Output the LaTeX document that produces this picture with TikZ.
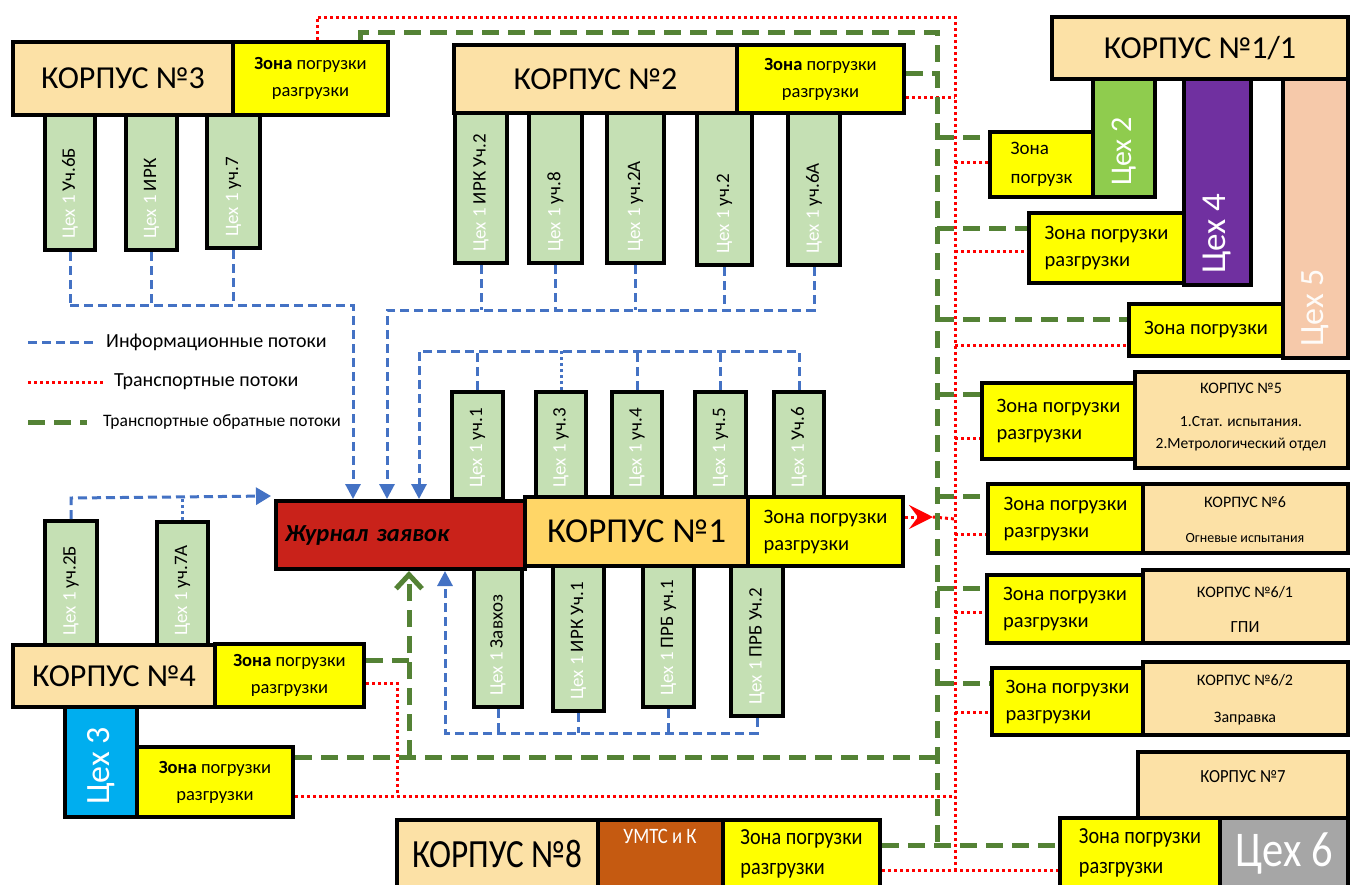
\documentclass[tikz,border=0pt]{standalone}
\usepackage{fontspec}
\setmainfont{Carlito}
\usepackage{graphicx}
\usetikzlibrary{arrows.meta,calc}

\definecolor{korp}{HTML}{FCE1A6}
\definecolor{korpone}{HTML}{FFD667}
\definecolor{zonec}{HTML}{FFFF00}
\definecolor{tabg}{HTML}{C5E0B4}
\definecolor{cehtwo}{HTML}{8FCC4E}
\definecolor{cehfour}{HTML}{7030A0}
\definecolor{cehfive}{HTML}{F6C9AA}
\definecolor{cehthree}{HTML}{00AEEF}
\definecolor{cehsix}{HTML}{A6A6A6}
\definecolor{umts}{HTML}{C55A11}
\definecolor{jrn}{HTML}{C9221A}
\definecolor{infoc}{HTML}{4472C4}
\definecolor{transc}{HTML}{FF0000}
\definecolor{retc}{HTML}{548235}

\tikzset{
  box/.style={draw=black,line width=4pt,inner sep=0pt},
  korpus/.style={box,fill=korp,font=\fontsize{32}{36}\selectfont},
  korpsmall/.style={box,fill=korp},
  zonebox/.style={box,fill=zonec,font=\fontsize{18.5}{27}\selectfont,align=center},
  zoneleft/.style={box,fill=zonec,font=\fontsize{20.5}{27}\selectfont,align=left},
  tabbox/.style={draw=black,line width=4pt,fill=tabg,inner sep=0pt},
  tabtext/.style={font=\fontsize{19}{22}\selectfont,inner sep=0pt},
  bigceh/.style={inner sep=0pt,text=white,rotate=90,anchor=west},
  smalltxt/.style={inner sep=0pt,anchor=base,font=\fontsize{16}{19}\selectfont},
  info/.style={draw=infoc,line width=3pt,dash pattern=on 9pt off 5pt},
  infotip/.style={-{Triangle[width=15pt,length=15pt]}},
  trans/.style={draw=transc,line width=3pt,dash pattern=on 3pt off 3pt},
  ret/.style={draw=retc,line width=5pt,dash pattern=on 17pt off 9pt},
  legtext/.style={inner sep=0pt,anchor=west,font=\fontsize{20}{22}\selectfont}
}

% rectangle given by its corners
\newcommand\mkbox[7]{\node[#2,minimum width={(#5)-(#3)},minimum height={(#6)-(#4)}] (#1) at ({((#3)+(#5))/2},{((#4)+(#6))/2}) {#7};}
% workshop tab with rotated caption
\newcommand\mktab[6]{%
  \node[tabbox,minimum width={(#4)-(#2)},minimum height={(#5)-(#3)}] (#1) at ({((#2)+(#4))/2},{((#3)+(#5))/2}) {};
  \node[tabtext,rotate=90,anchor=west] (#1-t) at ({((#2)+(#4))/2},{(#5)-11}) {\textcolor{white}{Цех 1} #6};}

\begin{document}
\begin{tikzpicture}[x=1pt,y=-1pt]
\useasboundingbox (0,0) rectangle (1351,884);
\fill[white] (0,0) rectangle (1351,884);

% ---------- Корпус 3 ----------
\mkbox{k3}{korpus}{13}{42}{233}{115}{КОРПУС №3}
\mkbox{z3}{zonebox}{233}{42}{388}{115}{\textbf{Зона} погрузки\\разгрузки}
\mktab{t3a}{45}{115}{95}{250}{Уч.6Б}
\mktab{t3b}{126}{115}{177}{250}{ИРК}
\mktab{t3c}{207}{115}{260}{248}{уч.7}

% ---------- Корпус 2 ----------
\mkbox{k2}{korpus}{454}{45}{737}{113}{КОРПУС №2}
\mkbox{z2}{zonebox}{737}{45}{904}{113}{\textbf{Зона} погрузки\\разгрузки}
\mktab{t2a}{455}{113}{507}{263}{ИРК Уч.2}
\mktab{t2b}{529}{113}{582}{263}{уч.8}
\mktab{t2c}{607}{113}{664}{263}{уч.2А}
\mktab{t2d}{697}{113}{752}{265}{уч.2}
\mktab{t2e}{788}{113}{840}{265}{уч.6А}

% ---------- Журнал и Корпус 1 ----------
\mktab{u1}{452}{392}{503}{499}{уч.1}
\mktab{u2}{536}{392}{586}{499}{уч.3}
\mktab{u3}{612}{392}{662}{499}{уч.4}
\mktab{u4}{695}{392}{746}{499}{уч.5}
\mktab{u5}{774}{392}{824}{499}{Уч.6}
\mktab{l1}{474}{564}{522}{707}{Завхоз}
\mktab{l2}{553}{564}{604}{711}{ИРК Уч.1}
\mktab{l3}{643}{564}{694}{707}{ПРБ уч.1}
\mktab{l4}{731}{564}{783}{716}{ПРБ Уч.2}
\mkbox{jr}{box,fill=jrn,text width=231pt,align=left,font=\fontsize{24.5}{28}\selectfont\bfseries\itshape}{276}{501}{525}{569}{Журнал заявок\vphantom{y}}
\mkbox{k1}{korpus,fill=korpone,font=\fontsize{35}{40}\selectfont}{525}{497}{748}{566}{КОРПУС №1}
\mkbox{z1}{zoneleft}{748}{497}{903}{566}{Зона погрузки\\разгрузки}

% ---------- Корпус 4 и Цех 3 ----------
\mktab{t4a}{45}{521}{97}{647}{уч.2Б}
\mktab{t4b}{157}{522}{208}{647}{уч.7А}
\mkbox{k4}{korpus}{13}{645}{215}{707}{КОРПУС №4}
\mkbox{z4}{zonebox}{215}{644}{364}{707}{\textbf{Зона} погрузки\\разгрузки}
\mkbox{c3}{box,fill=cehthree}{65}{707}{137}{817}{}
\node[bigceh,font=\fontsize{34}{38}\selectfont] (c3t) at (101,805) {Цех 3};
\mkbox{zc3}{zonebox}{137}{747}{293}{817}{\textbf{Зона} погрузки\\разгрузки}

% ---------- Корпус 8 ----------
\mkbox{k8}{korpsmall,font=\fontsize{40}{44}\selectfont}{397}{820}{598}{888}{\scalebox{0.83}[1]{КОРПУС №8}}
\mkbox{um}{box,fill=umts}{598}{820}{723}{888}{}
\node[inner sep=0pt,anchor=north,text=white,font=\fontsize{22}{24}\selectfont] (umt) at (660,829) {\scalebox{0.85}[1]{УМТС и К}};
\mkbox{z8}{zoneleft,font=\fontsize{23}{30}\selectfont}{723}{820}{880}{888}{\scalebox{0.88}[1]{Зона погрузки}\\\scalebox{0.88}[1]{разгрузки}}

% ---------- Корпус 1/1 ----------
\mkbox{k11}{korpus}{1052}{17}{1348}{79}{КОРПУС №1/1}
\mkbox{c2}{box,fill=cehtwo}{1093}{79}{1155}{197}{}
\node[bigceh,font=\fontsize{30}{34}\selectfont] (c2t) at (1124,186) {Цех 2};
\mkbox{zc2}{zoneleft,font=\fontsize{19}{29}\selectfont}{990}{132}{1093}{197}{Зона\\погрузк}
\mkbox{c4}{box,fill=cehfour}{1184}{79}{1251}{285}{}
\node[bigceh,font=\fontsize{35}{38}\selectfont] (c4t) at (1217,274) {Цех 4};
\mkbox{zc4}{zoneleft}{1029}{213}{1184}{283}{Зона погрузки\\разгрузки}
\mkbox{c5}{box,fill=cehfive}{1283}{79}{1348}{358}{}
\node[bigceh,text=white!92!cehfive,font=\fontsize{34}{38}\selectfont] (c5t) at (1315,347) {Цех 5};
\mkbox{zc5}{zoneleft}{1129}{304}{1283}{356}{Зона погрузки}

% ---------- Корпуса 5, 6, 6/1, 6/2 ----------
\mkbox{zk5}{zoneleft}{982}{383}{1135}{459}{Зона погрузки\\разгрузки}
\mkbox{k5}{korpsmall}{1135}{372}{1348}{468}{}
\node[smalltxt] (k5a) at (1241,393) {КОРПУС №5};
\node[smalltxt,font=\fontsize{15.5}{19}\selectfont] (k5b) at (1241,426) {1.Стат. испытания.};
\node[smalltxt,font=\fontsize{15.5}{19}\selectfont] (k5c) at (1241,448) {2.Метрологический отдел};

\mkbox{zk6}{zoneleft}{988}{484}{1143}{553}{Зона погрузки\\разгрузки}
\mkbox{k6}{korpsmall}{1143}{484}{1348}{553}{}
\node[smalltxt] (k6a) at (1245,507) {КОРПУС №6};
\node[smalltxt,font=\fontsize{14}{17}\selectfont] (k6b) at (1245,542) {Огневые испытания};

\mkbox{zk61}{zoneleft}{987}{575}{1143}{643}{Зона погрузки\\разгрузки}
\mkbox{k61}{korpsmall}{1143}{570}{1348}{643}{}
\node[smalltxt] (k61a) at (1245,597) {КОРПУС №6/1};
\node[smalltxt,font=\fontsize{17}{20}\selectfont] (k61b) at (1245,632) {ГПИ};

\mkbox{zk62}{zoneleft}{992}{668}{1143}{735}{Зона погрузки\\разгрузки}
\mkbox{k62}{korpsmall}{1143}{662}{1348}{735}{}
\node[smalltxt] (k62a) at (1245,685) {КОРПУС №6/2};
\node[smalltxt] (k62b) at (1245,722) {Заправка};

% ---------- Корпус 7 и Цех 6 ----------
\mkbox{k7}{korpsmall}{1138}{752}{1348}{818}{}
\node[smalltxt,font=\fontsize{18.5}{20}\selectfont] (k7t) at (1243,782) {\scalebox{0.9}[1]{КОРПУС №7}};
\mkbox{zc6}{zoneleft,font=\fontsize{23}{30}\selectfont}{1060}{818}{1220}{888}{\scalebox{0.88}[1]{Зона погрузки}\\\scalebox{0.88}[1]{разгрузки}}
\mkbox{c6}{box,fill=cehsix,text=white,font=\fontsize{50}{54}\selectfont}{1220}{818}{1348}{888}{\scalebox{0.85}[1]{Цех 6}}

% ---------- Информационные потоки ----------
\coordinate (b1) at (353,305);
\draw[info] (t3a.south) -- (t3a.south |- b1);
\draw[info] (t3b.south) -- (t3b.south |- b1);
\draw[info] (t3c.south) -- (t3c.south |- b1);
\draw[info,infotip] (t3a.south |- b1) -- (b1) -- (b1 |- jr.north);

\coordinate (b2) at (387,310);
\draw[info] (t2a.south) -- (t2a.south |- b2);
\draw[info] (t2b.south) -- (t2b.south |- b2);
\draw[info] (t2c.south) -- (t2c.south |- b2);
\draw[info] (t2d.south) -- (t2d.south |- b2);
\draw[info,infotip] (t2e.south) |- (b2) -- (b2 |- jr.north);

\coordinate (b3) at (419,351);
\draw[info] (u1.north) -- (u1.north |- b3);
\draw[draw=infoc,line width=3pt,dash pattern=on 3pt off 3pt] (u2.north) -- (u2.north |- b3);
\draw[info] (u3.north) -- (u3.north |- b3);
\draw[info] (u4.north) -- (u4.north |- b3);
\draw[info,infotip] (u5.north) |- (b3) -- (b3 |- jr.north);

\coordinate (b4) at (445,733);
\draw[info] (l1.south) -- (l1.south |- b4);
\draw[info] (l2.south) -- (l2.south |- b4);
\draw[info] (l3.south) -- (l3.south |- b4);
\draw[info,infotip] (l4.south) |- (b4) -- (b4 |- jr.south);

\coordinate (b5) at (71,498);
\draw[draw=infoc,line width=3pt,dash pattern=on 3pt off 3pt] (t4b.north) -- (t4b.north |- b5);
\draw[info,-{Triangle[width=17pt,length=15pt]}] (t4a.north) -- (b5) -- ($(jr.north west)+(-3,-3)$);

% ---------- Транспортные потоки ----------
\coordinate (rt1) at (317,17);
\coordinate (rt2) at (955,17);
\coordinate (rbot) at (955,870);
\draw[trans] (z3.north -| rt1) -- (rt1) -- (rt2) -- (rbot);
\draw[trans] (z8.east |- rbot) -- (zc6.west |- rbot);
\coordinate (r2) at (955,97);
\draw[trans] (z2.east |- r2) -- (r2);
\coordinate (rc2) at (955,162);
\draw[trans] (rc2) -- (zc2.west |- rc2);
\coordinate (rc4) at (955,251);
\draw[trans] (rc4) -- (zc4.west |- rc4);
\coordinate (rc5) at (955,345);
\draw[trans] (rc5) -- (zc5.west |- rc5);
\coordinate (rk5) at (955,438);
\draw[trans] (rk5) -- (zk5.west |- rk5);
\coordinate (rk6) at (955,534);
\draw[trans] (rk6) -- (zk6.west |- rk6);
\coordinate (rk61) at (955,612);
\draw[trans] (rk61) -- (zk61.west |- rk61);
\coordinate (rk62) at (955,712);
\draw[trans] (rk62) -- (zk62.west |- rk62);
\coordinate (ra) at (933,517);
\draw[trans,-{Stealth[length=24pt,width=24pt,inset=9pt]}] (z1.east |- ra) -- (ra);
\draw[trans] (ra) -- (955,519);
\coordinate (rk4) at (397,683);
\coordinate (rk4b) at (397,796);
\coordinate (rc3) at (955,796);
\draw[trans] (z4.east |- rk4) -- (rk4) -- (rk4b);
\draw[trans] (zc3.east |- rk4b) -- (rc3);

% ---------- Транспортные обратные потоки ----------
\coordinate (gt0) at (360,32);
\coordinate (gt1) at (937,32);
\coordinate (gbot) at (937,845);
\draw[ret] (z3.north -| gt0) -- (gt0) -- (gt1) -- (gbot);
\draw[ret] (z8.east |- gbot) -- (zc6.west |- gbot);
\coordinate (g2) at (937,73);
\draw[ret] (z2.east |- g2) -- (g2);
\coordinate (gc2) at (937,137);
\draw[ret] (gc2) -- (zc2.west |- gc2);
\coordinate (gc4) at (937,228);
\draw[ret] (gc4) -- (zc4.west |- gc4);
\coordinate (gc5) at (937,319);
\draw[ret] (gc5) -- (zc5.west |- gc5);
\coordinate (gk5) at (937,394);
\draw[ret] (gk5) -- (zk5.west |- gk5);
\coordinate (gk6) at (937,496);
\draw[ret] (gk6) -- (zk6.west |- gk6);
\coordinate (gk61) at (937,588);
\draw[ret] (gk61) -- (zk61.west |- gk61);
\coordinate (gk62) at (937,683);
\draw[ret] (gk62) -- (zk62.west |- gk62);
\coordinate (gk4) at (409,660);
\coordinate (gk4b) at (409,757);
\coordinate (gc3) at (937,757);
\draw[ret] (z4.east |- gk4) -- (gk4);
\draw[ret] (zc3.east |- gk4b) -- (gk4b) -- (gc3);
\draw[ret,-{Straight Barb[width=26pt,length=14pt]}] (gk4b) -- (gk4b |- jr.south);

% ---------- Легенда ----------
\coordinate (lg1) at (28,342);
\coordinate (lg2) at (28,382);
\coordinate (lg3) at (28,422);
\node[legtext] (lt1) at (106,342) {Информационные потоки};
\node[legtext] (lt2) at (114,382) {Транспортные потоки};
\node[legtext,font=\fontsize{17.5}{20}\selectfont] (lt3) at (103,422) {Транспортные обратные потоки};
\draw[info] (lg1) -- ($(lt1.west)+(-13,0)$);
\draw[trans] (lg2) -- ($(lt2.west)+(-10,0)$);
\draw[ret] (lg3) -- ($(lt3.west)+(-16,0)$);
\end{tikzpicture}
\end{document}
